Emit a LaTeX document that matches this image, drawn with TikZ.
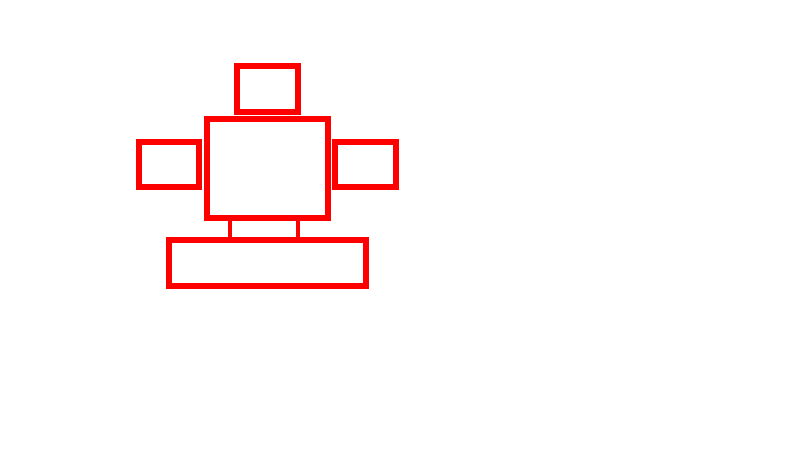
\documentclass[tikz,border=0pt]{standalone}
\begin{document}
\begin{tikzpicture}[x=1pt,y=-1pt,
  part/.style={draw=red,line width=6pt,rectangle,inner sep=0pt,outer sep=0pt,fill=none},
  leg/.style={draw=red,line width=4pt}]
\useasboundingbox (0,0) rectangle (800,450);
\node[part,minimum width=61pt,minimum height=46pt] (head) at (267.5,89) {};
\node[part,minimum width=121pt,minimum height=99pt] (body) at (267.5,168.5) {};
\node[part,minimum width=60pt,minimum height=45pt] (larm) at (169,164.5) {};
\node[part,minimum width=61pt,minimum height=45pt] (rarm) at (365.5,164.5) {};
\node[part,minimum width=197pt,minimum height=46pt] (base) at (267.5,263) {};
\draw[leg] ([xshift=23pt]body.south west) -- ([xshift=23pt]body.south west |- base.north);
\draw[leg] ([xshift=-30pt]body.south east) -- ([xshift=-30pt]body.south east |- base.north);
\end{tikzpicture}
\end{document}
